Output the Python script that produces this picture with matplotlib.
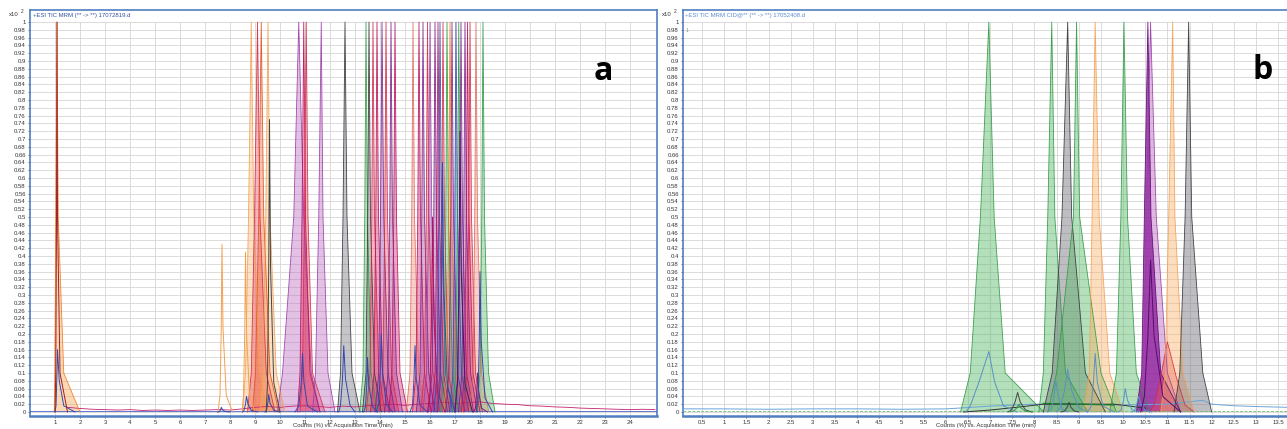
import numpy as np
import matplotlib
matplotlib.use("Agg")
import matplotlib.pyplot as plt

plt.rcParams['font.family'] = ['Liberation Sans', 'DejaVu Sans']

# ---- panel a: filled peaks (retention time, height, outline x at base / 10% / 50%)
a_rt = [1.08, 8.85, 9.10, 9.25, 9.52, 10.75, 10.95, 11.05, 11.65, 12.60,
        13.44, 13.56, 13.72, 13.88, 14.08, 14.24, 14.44, 14.60, 15.32, 15.56,
        15.72, 15.90, 16.00, 16.20, 16.32, 16.40, 16.52, 16.68, 16.80, 16.88,
        17.04, 17.15, 17.24, 17.40, 17.50, 17.60, 17.84, 18.12]
a_h = [1.0] * 38
a_start = [0.97, 8.50, 8.70, 8.90, 9.20, 9.90, 10.70, 10.80, 11.30, 12.30,
           13.19, 13.30, 13.45, 13.62, 13.80, 13.98, 14.18, 14.35, 15.05, 15.30,
           15.45, 15.62, 15.72, 15.94, 16.06, 16.15, 16.26, 16.42, 16.55, 16.62,
           16.78, 16.90, 16.98, 17.14, 17.25, 17.34, 17.58, 17.88]
a_l10 = [0.99, 8.62, 8.85, 9.02, 9.32, 10.10, 10.80, 10.90, 11.42, 12.42,
         13.32, 13.44, 13.60, 13.76, 13.95, 14.12, 14.32, 14.48, 15.20, 15.44,
         15.60, 15.78, 15.86, 16.08, 16.20, 16.29, 16.40, 16.56, 16.68, 16.76,
         16.92, 17.03, 17.12, 17.28, 17.38, 17.48, 17.72, 18.00]
a_l50 = [1.03, 8.74, 8.98, 9.15, 9.43, 10.55, 10.88, 10.98, 11.55, 12.52,
         13.39, 13.51, 13.67, 13.83, 14.02, 14.19, 14.39, 14.55, 15.27, 15.51,
         15.67, 15.85, 15.94, 16.15, 16.27, 16.35, 16.47, 16.63, 16.75, 16.83,
         16.99, 17.10, 17.19, 17.35, 17.45, 17.55, 17.79, 18.07]
a_r50 = [1.13, 8.95, 9.20, 9.35, 9.60, 10.95, 11.02, 11.12, 11.72, 12.68,
         13.50, 13.62, 13.78, 13.94, 14.15, 14.30, 14.50, 14.66, 15.38, 15.62,
         15.78, 15.96, 16.07, 16.26, 16.38, 16.46, 16.58, 16.74, 16.86, 16.94,
         17.10, 17.21, 17.30, 17.46, 17.56, 17.66, 17.90, 18.18]
a_r10 = [1.35, 9.20, 9.45, 9.60, 9.85, 11.25, 11.20, 11.30, 11.92, 12.88,
         13.64, 13.78, 13.95, 14.10, 14.32, 14.46, 14.66, 14.80, 15.55, 15.78,
         15.95, 16.12, 16.25, 16.42, 16.54, 16.62, 16.74, 16.90, 17.02, 17.10,
         17.26, 17.37, 17.46, 17.62, 17.72, 17.82, 18.06, 18.34]
a_end = [2.00, 9.50, 9.80, 9.95, 10.20, 11.60, 11.60, 11.80, 12.20, 13.20,
         13.90, 14.05, 14.20, 14.40, 14.60, 14.75, 14.90, 15.10, 15.85, 16.05,
         16.20, 16.40, 16.50, 16.70, 16.80, 16.90, 17.00, 17.15, 17.30, 17.40,
         17.55, 17.65, 17.75, 17.90, 18.00, 18.10, 18.35, 18.60]
a_color = ['orange', 'lorange', 'red', 'dorange', 'lorange', 'lpurple', 'magenta', 'red', 'lpurple', 'gray',
           'green', 'gray', 'red', 'magenta', 'purple', 'red', 'purple', 'magenta', 'salmon', 'magenta',
           'purple', 'red', 'lpurple', 'purple', 'magenta', 'blue', 'red', 'green', 'orange', 'purple',
           'blue', 'green', 'purple', 'purple', 'magenta', 'red', 'salmon', 'green']

# ---- panel a: unfilled traces
at_rt = [1.10, 1.08, 7.68, 8.62, 7.65, 8.66, 9.55, 9.58, 10.90, 12.55,
         13.50, 14.05, 15.40, 16.10, 16.50, 17.20, 17.90, 18.00]
at_h = [0.16, 1.0, 0.43, 0.41, 0.012, 0.04, 0.045, 0.75, 0.15, 0.17,
        0.14, 0.20, 0.17, 0.50, 0.64, 0.72, 0.10, 0.36]
at_start = [1.00, 1.00, 7.52, 8.48, 7.50, 8.50, 9.40, 9.45, 10.60, 12.35,
            13.35, 13.85, 15.20, 15.90, 16.30, 17.00, 17.75, 17.85]
at_l10 = [1.04, 1.03, 7.60, 8.54, 7.58, 8.56, 9.46, 9.50, 10.75, 12.42,
          13.42, 13.95, 15.30, 16.00, 16.40, 17.10, 17.82, 17.92]
at_l50 = [1.07, 1.06, 7.65, 8.59, 7.63, 8.62, 9.51, 9.55, 10.85, 12.50,
          13.47, 14.01, 15.36, 16.06, 16.46, 17.16, 17.87, 17.97]
at_r50 = [1.17, 1.10, 7.72, 8.66, 7.70, 8.72, 9.60, 9.62, 10.96, 12.62,
          13.55, 14.10, 15.45, 16.15, 16.55, 17.25, 17.95, 18.05]
at_r10 = [1.35, 1.20, 7.85, 8.78, 7.80, 8.85, 9.75, 9.75, 11.10, 12.80,
          13.70, 14.25, 15.60, 16.30, 16.70, 17.40, 18.05, 18.20]
at_end = [1.80, 1.50, 8.10, 9.00, 8.00, 9.10, 10.00, 10.00, 11.50, 13.00,
          13.90, 14.50, 15.90, 16.60, 17.00, 17.70, 18.30, 18.50]
at_color = ['blue', 'dred', 'lorange', 'lorange', 'blue', 'blue', 'blue', 'dgray', 'blue', 'blue',
            'blue', 'blue', 'blue', 'magenta', 'blue', 'dpurple', 'purple', 'blue']

# ---- panel a: baseline noise
a_base_t = [1.5, 2, 2.5, 3, 3.5, 4, 4.5, 5, 5.5, 6, 6.5, 7, 7.5, 8, 8.5, 9, 9.5, 10,
            10.5, 11, 11.5, 12, 12.5, 13, 13.5, 14, 14.5, 15, 15.5, 16, 16.5, 17,
            17.5, 18, 18.5, 19, 19.5, 20, 20.5, 21, 21.5, 22, 22.5, 23, 23.5, 24, 24.5, 25]
a_base_y = [0.012, 0.009, 0.007, 0.006, 0.005, 0.006, 0.004, 0.005, 0.004, 0.005, 0.004, 0.005,
            0.006, 0.005, 0.008, 0.012, 0.014, 0.012, 0.015, 0.016, 0.014, 0.012, 0.015, 0.013,
            0.016, 0.018, 0.020, 0.017, 0.020, 0.022, 0.025, 0.022, 0.024, 0.026, 0.022, 0.020,
            0.019, 0.016, 0.015, 0.013, 0.012, 0.010, 0.009, 0.008, 0.007, 0.006, 0.007, 0.006]

# ---- panel b: filled peaks
b_rt = [6.97, 8.39, 8.75, 8.95, 9.37, 10.02, 10.62, 10.56, 11.00, 11.12, 11.48]
b_h = [1.0, 1.0, 1.0, 1.0, 1.0, 1.0, 1.0, 1.0, 0.18, 1.0, 1.0]
b_start = [6.33, 8.10, 8.20, 8.30, 9.10, 9.70, 10.35, 10.30, 10.60, 10.85, 11.15]
b_l10 = [6.55, 8.20, 8.40, 8.50, 9.24, 9.85, 10.45, 10.42, 10.70, 10.95, 11.28]
b_l50 = [6.78, 8.30, 8.62, 8.88, 9.30, 9.95, 10.52, 10.48, 10.85, 11.03, 11.40]
b_r50 = [7.09, 8.46, 8.84, 9.02, 9.46, 10.10, 10.75, 10.63, 11.20, 11.17, 11.55]
b_r10 = [7.34, 8.70, 9.15, 9.50, 9.70, 10.30, 11.00, 10.85, 11.40, 11.35, 11.80]
b_end = [8.21, 9.20, 9.60, 9.85, 10.00, 10.60, 11.30, 11.30, 11.60, 11.60, 12.00]
b_color = ['green', 'green', 'gray', 'green', 'lorange', 'green', 'lpurple', 'dpurple', 'red', 'lorange', 'gray']

# ---- panel b: unfilled traces
bt_rt = [6.97, 7.62, 7.65, 8.48, 8.75, 8.78, 9.37, 10.05, 10.35, 10.62]
bt_h = [0.155, 0.05, 0.02, 0.08, 0.11, 0.025, 0.15, 0.06, 0.04, 0.39]
bt_start = [6.45, 7.40, 7.45, 8.30, 8.50, 8.60, 9.20, 9.90, 10.20, 10.40]
bt_l10 = [6.55, 7.48, 7.52, 8.38, 8.58, 8.68, 9.28, 9.96, 10.26, 10.48]
bt_l50 = [6.75, 7.56, 7.60, 8.44, 8.68, 8.74, 9.33, 10.01, 10.31, 10.56]
bt_r50 = [7.10, 7.68, 7.70, 8.54, 8.84, 8.82, 9.42, 10.10, 10.40, 10.70]
bt_r10 = [7.30, 7.80, 7.80, 8.62, 9.00, 8.90, 9.55, 10.20, 10.50, 10.90]
bt_end = [7.60, 7.95, 7.95, 8.75, 9.20, 9.00, 9.80, 10.35, 10.65, 11.30]
bt_color = ['lblue', 'dgray', 'green', 'lblue', 'lblue', 'dgray', 'lblue', 'lblue', 'lblue', 'dpurple']

# ---- panel b: baselines
b_base_t = [0.07, 1, 2, 3, 4, 5, 6, 6.3, 7, 8, 9, 10, 11, 11.8, 12, 12.5, 13, 13.7]
b_base_y = [0.008, 0.008, 0.007, 0.008, 0.008, 0.007, 0.008, 0.010, 0.015, 0.020, 0.020,
            0.018, 0.020, 0.030, 0.020, 0.016, 0.014, 0.012]
b_dark_t = [6.4, 7.0, 7.6, 8.2, 9.0, 9.8, 10.5]
b_dark_y = [0.0, 0.005, 0.012, 0.020, 0.020, 0.020, 0.010]
b_green_t = [8.2, 9.0, 9.8]
b_green_y = [0.022, 0.020, 0.018]

palette = {
    'orange':  ('#f6a04a', '#ef7d22'),
    'lorange': ('#f9b46e', '#f4a050'),
    'dorange': ('#f06a30', '#e0501c'),
    'red':     ('#e84a5f', '#d22a45'),
    'salmon':  ('#f08a7a', '#e06a5a'),
    'magenta': ('#d42470', '#b8105a'),
    'purple':  ('#9a3da0', '#7a2088'),
    'lpurple': ('#b865c0', '#9a3da8'),
    'dpurple': ('#8a1a9a', '#5a0a70'),
    'gray':    ('#707078', '#333338'),
    'green':   ('#58b868', '#2e9a44'),
    'blue':    ('#4a62c8', '#3048b0'),
    'lblue':   ('#6aa4d8', '#5a90c8'),
    'dgray':   ('#555555', '#444444'),
    'dred':    ('#b03030', '#a02020'),
}
frame_blue = '#4f7fc0'
grid_grey = '#d6d6d6'


def outline(rt, h, st, l10, l50, r50, r10, en):
    xs = [st, l10, l50, rt, r50, r10, en]
    ys = [0, 0.1 * h, 0.5 * h, h, 0.5 * h, 0.1 * h, 0]
    return xs, ys


def draw_filled(ax, rt, h, st, l10, l50, r50, r10, en, cols, alpha):
    for i in range(len(rt)):
        xs, ys = outline(rt[i], h[i], st[i], l10[i], l50[i], r50[i], r10[i], en[i])
        fc, ec = palette[cols[i]]
        al = 0.75 if cols[i] == 'dpurple' else alpha
        ax.fill(xs, ys, color=fc, alpha=al, lw=0, zorder=2)
        ax.plot(xs, ys, color=ec, lw=0.6, alpha=0.9, zorder=3)


def draw_traces(ax, rt, h, st, l10, l50, r50, r10, en, cols):
    for i in range(len(rt)):
        xs, ys = outline(rt[i], h[i], st[i], l10[i], l50[i], r50[i], r10[i], en[i])
        ax.plot(xs, ys, color=palette[cols[i]][1], lw=0.7, zorder=4)


def style_axes(ax, xmin, xmax, xticks, xfmt):
    ax.set_xlim(xmin, xmax)
    ax.set_ylim(-0.0103, 1.031)
    yt = np.round(np.arange(0, 1.0001, 0.02), 2)
    ax.set_yticks(yt)
    ax.set_yticklabels(['%g' % v for v in yt])
    ax.set_xticks(xticks)
    ax.set_xticklabels([xfmt % v for v in xticks])
    ax.tick_params(labelsize=4.3, length=1.5, width=0.5, colors='#333333', pad=1.5)
    ax.hlines(yt, xmin, xmax, color=grid_grey, lw=0.6, zorder=1)
    ax.vlines(xticks, -0.0103, 1.0, color=grid_grey, lw=0.6, zorder=1)
    for s in ax.spines.values():
        s.set_color(frame_blue)
        s.set_linewidth(1.2)
    ax.spines['bottom'].set_linewidth(1.8)


fig = plt.figure(figsize=(12.87, 4.29), dpi=100)

# panel a
ax1 = fig.add_axes([30 / 1287, 13 / 429, 627 / 1287, 406 / 429])
style_axes(ax1, 0, 25.08, list(range(1, 25)), '%d')
ax1.plot([0, 25.08], [0.002, 0.002], color='#4a62c8', lw=0.6, zorder=3)
ax1.plot(a_base_t, a_base_y, color='#c8206a', lw=0.6, zorder=3)
draw_filled(ax1, a_rt, a_h, a_start, a_l10, a_l50, a_r50, a_r10, a_end, a_color, 0.4)
draw_traces(ax1, at_rt, at_h, at_start, at_l10, at_l50, at_r50, at_r10, at_end, at_color)
ax1.text(0.005, 0.993, '+ESI TIC MRM (** -> **) 17072819.d', transform=ax1.transAxes,
         fontsize=4.3, color='#3050a0', va='top', ha='left')

# panel b (its frame runs off the right edge of the picture)
ax2 = fig.add_axes([683 / 1287, 13 / 429, 604 / 1287, 406 / 429])
style_axes(ax2, 0.067, 13.7, list(np.arange(0.5, 13.51, 0.5)), '%g')
ax2.spines['right'].set_visible(False)
ax2.plot(b_base_t, b_base_y, color='#6aa4d8', lw=0.7, zorder=3)
ax2.plot([0.07, 13.7], [0.003, 0.003], color='#7ab878', lw=0.6, ls='--', zorder=3)
ax2.plot(b_dark_t, b_dark_y, color='#333333', lw=0.7, zorder=4)
ax2.plot(b_green_t, b_green_y, color='#1a7a2a', lw=0.9, zorder=4)
draw_filled(ax2, b_rt, b_h, b_start, b_l10, b_l50, b_r50, b_r10, b_end, b_color, 0.45)
draw_traces(ax2, bt_rt, bt_h, bt_start, bt_l10, bt_l50, bt_r50, bt_r10, bt_end, bt_color)
ax2.text(0.004, 0.993, '+ESI TIC MRM CID@** (** -> **) 17052408.d', transform=ax2.transAxes,
         fontsize=4.3, color='#5a8ad0', va='top', ha='left')
ax2.text(0.004, 0.955, '1', transform=ax2.transAxes, fontsize=3.5, color='#888888',
         va='top', ha='left')

# multiplier labels and axis titles
for xpx in (9, 662):
    fig.text(xpx / 1287, 1 - 16 / 429, 'x10', fontsize=4.3, color='#333333', ha='left', va='baseline')
    fig.text((xpx + 12) / 1287, 1 - 13 / 429, '2', fontsize=3.5, color='#333333', ha='left', va='baseline')

fig.text(343 / 1287, 0.5 / 429, 'Counts (%) vs. Acquisition Time (min)', fontsize=4.3,
         color='#333333', ha='center', va='bottom')
fig.text(986 / 1287, 0.5 / 429, 'Counts (%) vs. Acquisition Time (min)', fontsize=4.3,
         color='#333333', ha='center', va='bottom')

fig.text(603 / 1287, 1 - 80 / 429, 'a', fontsize=23, fontweight='bold', family='Open Sans',
         ha='center', va='baseline')
fig.text(1263 / 1287, 1 - 79 / 429, 'b', fontsize=23, fontweight='bold', family='Open Sans',
         ha='center', va='baseline')

fig.savefig('out.png', dpi=100)
